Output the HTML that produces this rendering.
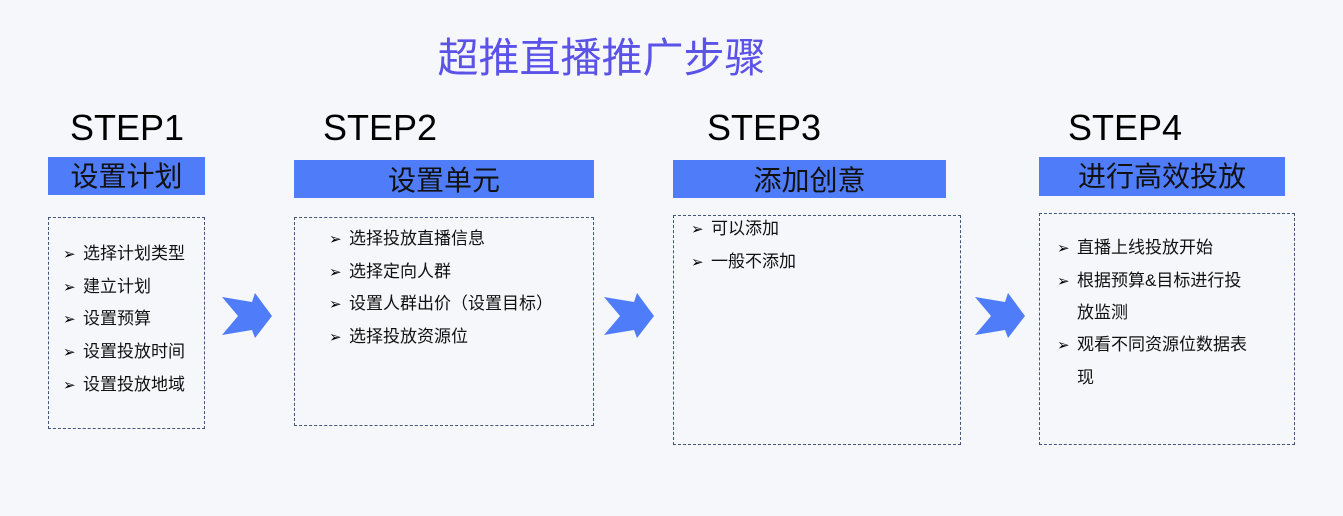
<!DOCTYPE html>
<html><head><meta charset="utf-8"><style>
body{margin:0;width:1343px;height:516px;background:#f6f7fb;position:relative;overflow:hidden;font-family:"Liberation Sans","Noto Sans CJK SC",sans-serif;color:#111}
.a{position:absolute}
.t{left:0;width:1203px;text-align:center;top:33px;font-size:41px;color:#5b52e8;line-height:50px}
.s{font-size:36px;top:108px;line-height:40px;color:#000}
.h{background:#4f7df9;font-size:28px;text-align:center;color:#111}
.b{border:1px dashed #44557a;box-sizing:border-box}
.i{font-size:17px;line-height:31.7px;white-space:nowrap}
.i span{display:inline-block;width:20px;font-size:15px;color:#000}
</style></head><body>
<div class="a t">超推直播推广步骤</div>
<div class="a s" style="left:70px">STEP1</div>
<div class="a s" style="left:323px">STEP2</div>
<div class="a s" style="left:707px">STEP3</div>
<div class="a s" style="left:1068px">STEP4</div>
<div class="a h" style="left:48px;top:157px;width:157px;height:38px;line-height:40px">设置计划</div>
<div class="a h" style="left:294px;top:160px;width:300px;height:38px;line-height:42px">设置单元</div>
<div class="a h" style="left:673px;top:160px;width:273px;height:38px;line-height:42px">添加创意</div>
<div class="a h" style="left:1039px;top:157px;width:246px;height:39px;line-height:40px">进行高效投放</div>
<div class="a b" style="left:48px;top:217px;width:157px;height:212px"></div>
<div class="a b" style="left:294px;top:217px;width:300px;height:209px"></div>
<div class="a b" style="left:673px;top:215px;width:288px;height:230px"></div>
<div class="a b" style="left:1039px;top:213px;width:256px;height:232px"></div>
<div class="a i" style="left:63px;top:238px"><span>➢</span>选择计划类型<br><span>➢</span>建立计划<br><span>➢</span>设置预算<br><span>➢</span>设置投放时间<br><span>➢</span>设置投放地域</div>
<div class="a i" style="left:329px;top:223px"><span>➢</span>选择投放直播信息<br><span>➢</span>选择定向人群<br><span>➢</span>设置人群出价（设置目标）<br><span>➢</span>选择投放资源位</div>
<div class="a i" style="left:691px;top:213px"><span>➢</span>可以添加<br><span>➢</span>一般不添加</div>
<div class="a i" style="left:1057px;top:232px"><span>➢</span>直播上线投放开始<br><span>➢</span>根据预算&amp;目标进行投<br><span></span>放监测<br><span>➢</span>观看不同资源位数据表<br><span></span>现</div>
<svg class="a" style="left:0;top:0" width="1343" height="516">
<g fill="#4f7df9">
<path d="M222,297 L252,302 L255,293 L272,316 L255,338 L252,330 L222,335 L238,316 Z"/>
<path d="M604,297 L634,302 L637,293 L654,316 L637,338 L634,330 L604,335 L620,316 Z"/>
<path d="M975,297 L1005,302 L1008,293 L1025,316 L1008,338 L1005,330 L975,335 L991,316 Z"/>
</g></svg>
</body></html>
